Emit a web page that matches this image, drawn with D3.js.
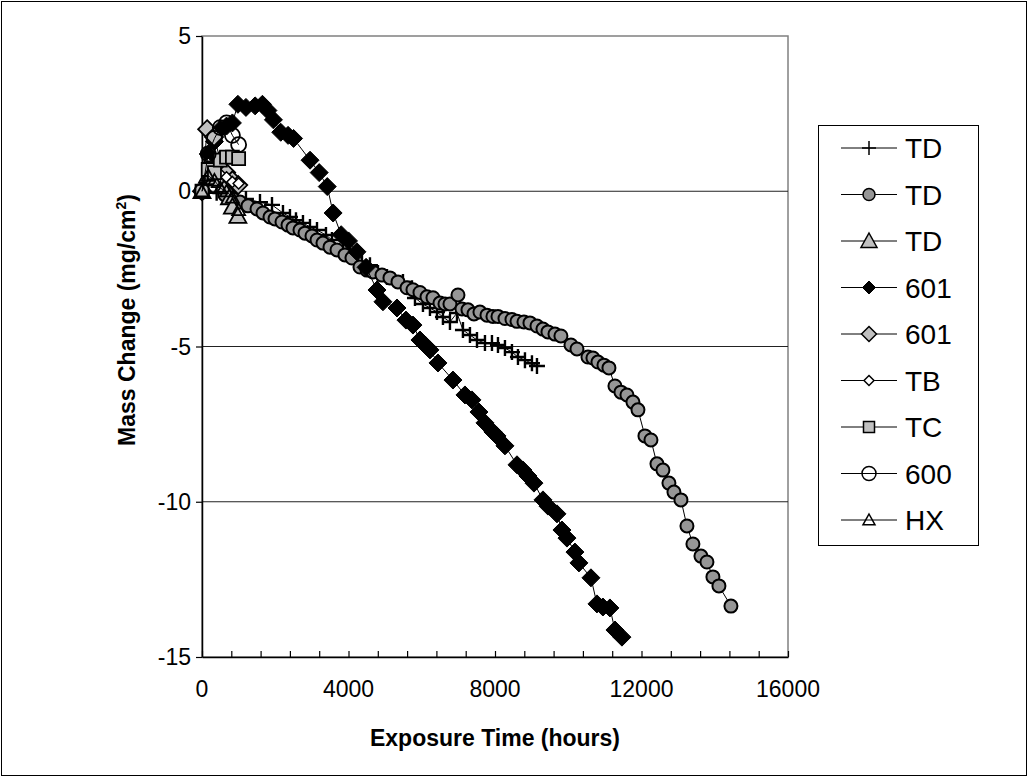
<!DOCTYPE html>
<html><head><meta charset="utf-8">
<script src="https://cdn.jsdelivr.net/npm/d3@7"></script>
<style>body{margin:0;background:#fff}svg{display:block}text{font-family:"Liberation Sans",Arial,sans-serif}</style>
</head><body>
<svg id="c" width="1029" height="778"></svg>
<script>
// ---- data (hours, mg/cm2) ----
const seriesNames = ["TD","TD","TD","601","601","TB","TC","600","HX"];
const xTicks = [0,4000,8000,12000,16000];
const yTicks = [5,0,-5,-10,-15];

const tdCross = [[0,0],[400,-0.05],[800,-0.15],[1200,-0.25],[1583,-0.35],[1911,-0.44],[2211,-0.70],[2402,-0.83],[2566,-0.93],[2757,-1.02],[2948,-1.15],[3140,-1.25],[3385,-1.41],[3549,-1.57],[3849,-1.86],[4040,-1.99],[4368,-2.28],[4586,-2.38],[4805,-2.63],[5051,-2.76],[5487,-2.92],[5733,-3.12],[5815,-3.44],[6033,-3.63],[6224,-3.76],[6416,-3.89],[6579,-4.05],[6770,-4.21],[6962,-3.92],[7125,-4.47],[7316,-4.63],[7508,-4.79],[7726,-4.89],[7917,-4.89],[8081,-4.95],[8272,-5.05],[8463,-5.18],[8627,-5.34],[8818,-5.44],[9009,-5.54],[9146,-5.63]];
const tdCircle = [[0,0],[628,-0.12],[846,-0.25],[1037,-0.35],[1256,-0.47],[1502,-0.57],[1665,-0.70],[1856,-0.83],[1993,-0.89],[2184,-0.99],[2348,-1.09],[2484,-1.18],[2675,-1.25],[2812,-1.35],[3003,-1.44],[3140,-1.57],[3303,-1.67],[3494,-1.80],[3686,-1.89],[3904,-2.05],[4095,-2.15],[4313,-2.44],[4505,-2.54],[4668,-2.60],[4914,-2.70],[5132,-2.79],[5351,-2.92],[5597,-3.11],[5760,-3.17],[5951,-3.26],[6143,-3.40],[6306,-3.43],[6497,-3.60],[6634,-3.63],[6770,-3.63],[6989,-3.34],[7098,-3.79],[7262,-3.82],[7426,-3.95],[7589,-3.89],[7781,-3.99],[7944,-4.03],[8081,-4.03],[8272,-4.10],[8463,-4.13],[8600,-4.19],[8791,-4.21],[8954,-4.24],[9146,-4.34],[9309,-4.44],[9446,-4.53],[9637,-4.60],[9800,-4.66],[10074,-4.95],[10238,-5.08],[10538,-5.34],[10674,-5.37],[10811,-5.50],[10975,-5.60],[11111,-5.69],[11275,-6.27],[11439,-6.47],[11603,-6.56],[11766,-6.79],[11903,-7.04],[12094,-7.88],[12258,-8.01],[12422,-8.78],[12585,-8.98],[12749,-9.40],[12886,-9.69],[13077,-9.94],[13241,-10.78],[13404,-11.36],[13623,-11.75],[13787,-11.94],[13950,-12.42],[14114,-12.71],[14442,-13.36]];
const tdTriangle = [[0,0],[150,0.5],[330,0.45],[500,0.35],[660,0.2],[750,-0.2],[830,-0.5],[980,-0.8]];
const a601Black = [[0,0],[170,1.2],[340,1.6],[500,2.0],[670,2.1],[830,2.2],[980,2.8],[1200,2.7],[1450,2.75],[1650,2.8],[1800,2.6],[1950,2.3],[2150,1.9],[2350,1.8],[2500,1.7],[2950,1.0],[3200,0.6],[3420,0.15],[3580,-0.7],[3800,-1.4],[4000,-1.6],[4230,-1.95],[4480,-2.45],[4778,-3.18],[4941,-3.56],[5324,-3.76],[5569,-4.15],[5760,-4.31],[5951,-4.79],[6115,-4.98],[6224,-5.11],[6443,-5.53],[6852,-6.08],[7180,-6.56],[7371,-6.72],[7562,-7.11],[7726,-7.46],[7944,-7.75],[8054,-7.88],[8272,-8.2],[8600,-8.81],[8763,-8.98],[8900,-9.17],[9064,-9.4],[9310,-9.94],[9446,-10.14],[9692,-10.39],[9828,-10.91],[9965,-11.17],[10183,-11.62],[10292,-11.97],[10620,-12.45],[10784,-13.29],[10947,-13.39],[11138,-13.42],[11275,-14.13],[11466,-14.36]];
const a601Gray = [[0,0],[140,2.0],[330,1.75],[500,1.0],[660,0.6],[830,0.35],[990,0.2]];
const tb = [[0,0],[170,0.9],[340,0.7],[500,0.55],[670,0.45],[830,0.3],[1000,0.25]];
const tc = [[0,0],[170,0.7],[340,0.6],[500,1.0],[670,1.1],[830,1.1],[1000,1.05]];
const a600 = [[0,0],[170,1.2],[340,1.7],[500,2.05],[670,2.2],[830,1.8],[1000,1.5]];
const hx = [[0,0],[170,0.5],[340,0.35],[500,0.1],[670,0.0],[830,-0.2],[1000,-0.6]];

const svg = d3.select("#c");
const x = d3.scaleLinear().domain([0,16000]).range([202,788]);
const y = d3.scaleLinear().domain([-15,5]).range([657,36]);

// outer frame
svg.append("rect").attr("x",1.5).attr("y",1.5).attr("width",1025).attr("height",774)
  .attr("fill","#fff").attr("stroke","#000").attr("stroke-width",1);

// plot area border
svg.append("rect").attr("x",x(0)).attr("y",y(5)).attr("width",x(16000)-x(0)).attr("height",y(-15)-y(5))
  .attr("fill","none").attr("stroke","#808080").attr("stroke-width",1.5);

// gridlines
svg.append("g").selectAll("line").data(yTicks.filter(v=>v<5&&v>-15)).join("line")
  .attr("x1",x(0)).attr("x2",x(16000)).attr("y1",d=>y(d)).attr("y2",d=>y(d))
  .attr("stroke","#222").attr("stroke-width",1.2);

// axes
const xAxis = d3.axisBottom(x).tickValues(d3.range(0,16001,800)).tickSizeInner(-6).tickSizeOuter(0).tickFormat("");
const gx = svg.append("g").attr("transform",`translate(0,${y(-15)})`).call(xAxis);
gx.select(".domain").attr("stroke","#000").attr("stroke-width",1.5);
gx.selectAll(".tick line").attr("stroke","#000").attr("stroke-width",1.2);

svg.append("g").selectAll("text").data(xTicks).join("text")
  .attr("x",d=>x(d)).attr("y",697).attr("text-anchor","middle")
  .attr("font-size",23).text(d=>d);

const yAxis = d3.axisLeft(y).tickValues(yTicks).tickSizeInner(6).tickSizeOuter(0).tickFormat("");
const gy = svg.append("g").attr("transform",`translate(${x(0)},0)`).call(yAxis);
gy.select(".domain").attr("stroke","#000").attr("stroke-width",1.5);
gy.selectAll(".tick line").attr("stroke","#000").attr("stroke-width",1.2);
svg.append("g").selectAll("text").data(yTicks).join("text")
  .attr("x",191).attr("y",d=>y(d)+8).attr("text-anchor","end")
  .attr("font-size",23).text(d=>d);

// titles
svg.append("text").attr("x",495).attr("y",746).attr("text-anchor","middle")
  .attr("font-size",23).attr("font-weight","bold").text("Exposure Time (hours)");
const yt = svg.append("text").attr("transform","translate(135,320) rotate(-90)").attr("text-anchor","middle")
  .attr("font-size",23).attr("font-weight","bold");
yt.append("tspan").text("Mass Change (mg/cm");
yt.append("tspan").attr("font-size",14).attr("dy",-9).text("2");
yt.append("tspan").attr("dy",9).text(")");

// marker generators
const P = {
  plus: s=>`M${-s},0H${s}M0,${-s}V${s}`,
  diamond: s=>`M0,${-s}L${s},0L0,${s}L${-s},0Z`,
  tri: s=>`M0,${-s}L${s},${s*0.8}L${-s},${s*0.8}Z`,
  square: s=>`M${-s},${-s}H${s}V${s}H${-s}Z`,
  circle: s=>`M${-s},0A${s},${s} 0 1,1 ${s},0A${s},${s} 0 1,1 ${-s},0Z`
};
const styles = [
  {data:tdCross, shape:"plus", size:8, lsize:7, fill:"none", sw:2.4, lsw:1.5},
  {data:tdCircle, shape:"circle", size:6.5, lsize:6, fill:"#969696", sw:2, lsw:1.5},
  {data:tdTriangle, shape:"tri", size:8.5, lsize:8, fill:"#c0c0c0", sw:1.8, lsw:1.5},
  {data:a601Black, shape:"diamond", size:9, lsize:6.5, fill:"#000", sw:1, lsw:1},
  {data:a601Gray, shape:"diamond", size:9, lsize:7.5, fill:"#c0c0c0", sw:1.8, lsw:1.5},
  {data:tb, shape:"diamond", size:5.5, lsize:5, fill:"#fff", sw:1.5, lsw:1.5},
  {data:tc, shape:"square", size:6.5, lsize:5.5, fill:"#c0c0c0", sw:1.8, lsw:1.5},
  {data:a600, shape:"circle", size:7.5, lsize:7, fill:"none", sw:1.8, lsw:1.5},
  {data:hx, shape:"tri", size:6.5, lsize:6, fill:"none", sw:1.8, lsw:1.5}
];
const line = d3.line().x(d=>x(d[0])).y(d=>y(d[1]));
const plot = svg.append("g");
styles.forEach(st=>{
  const g = plot.append("g");
  g.append("path").attr("d",line(st.data)).attr("fill","none").attr("stroke","#000").attr("stroke-width",1);
  g.selectAll("path.m").data(st.data).join("path").attr("class","m")
    .attr("transform",d=>`translate(${x(d[0])},${y(d[1])})`)
    .attr("d",P[st.shape](st.size)).attr("fill",st.fill).attr("stroke","#000").attr("stroke-width",st.sw);
});

// legend
const lg = svg.append("g");
lg.append("rect").attr("x",818.5).attr("y",125.5).attr("width",160).attr("height",420)
  .attr("fill","#fff").attr("stroke","#000").attr("stroke-width",1);
const ly = d3.scalePoint().domain(d3.range(9)).range([148,520]);
styles.forEach((st,i)=>{
  const yy = ly(i);
  lg.append("line").attr("x1",841).attr("x2",897).attr("y1",yy).attr("y2",yy).attr("stroke","#000").attr("stroke-width",1);
  lg.append("path").attr("transform",`translate(869,${yy})`).attr("d",P[st.shape](st.lsize))
    .attr("fill",st.fill).attr("stroke","#000").attr("stroke-width",st.lsw);
  lg.append("text").attr("x",905).attr("y",yy+10).attr("font-size",28).text(seriesNames[i]);
});
</script>
</body></html>
